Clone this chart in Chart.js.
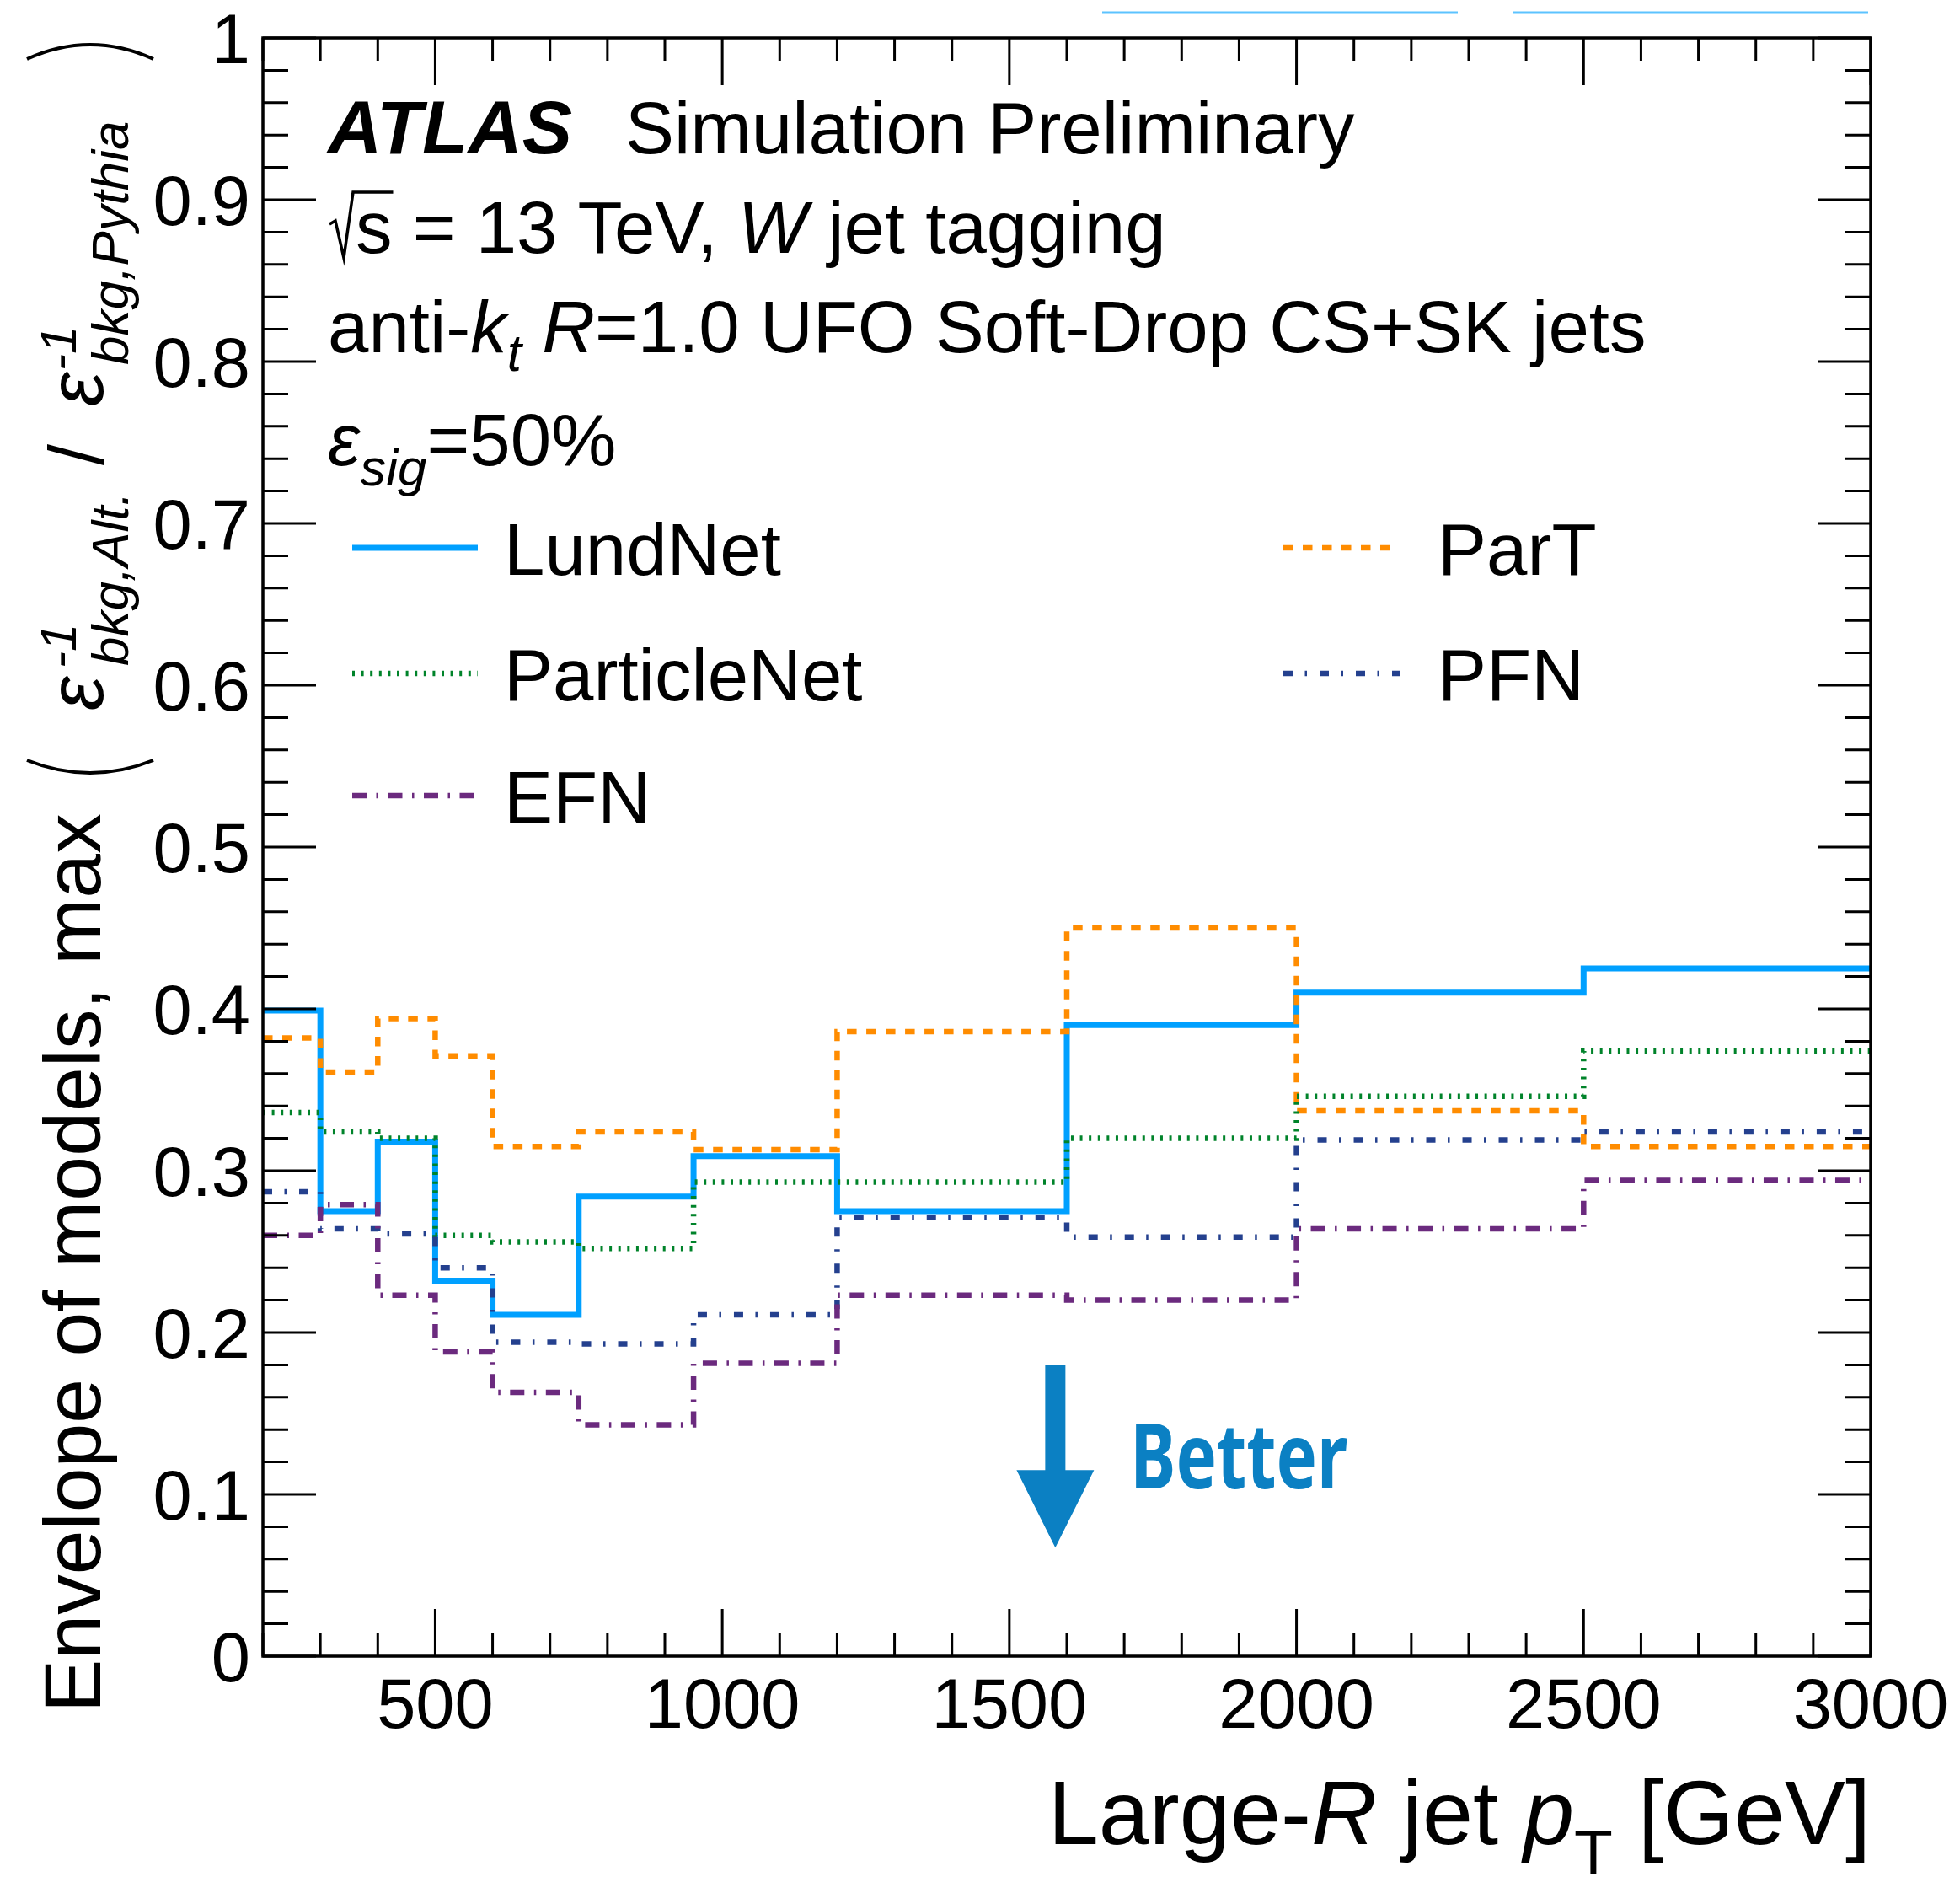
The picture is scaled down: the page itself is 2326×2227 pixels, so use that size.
<!DOCTYPE html>
<html>
<head>
<meta charset="utf-8">
<script src="https://cdn.jsdelivr.net/npm/chart.js@4.4.1/dist/chart.umd.min.js"></script>
<style>
  html, body { margin: 0; padding: 0; background: #fff; overflow: hidden; }
  canvas { display: block; }
</style>
</head>
<body>
<canvas id="chart" width="2326" height="2227"></canvas>
<script>
/* global Chart */

// bin edges in large-R jet pT [GeV]
const binEdges = [200, 300, 400, 500, 600, 750, 950, 1200, 1600, 2000, 2500, 3000];

// envelope of models per bin
const lundNet = [0.399, 0.275, 0.318, 0.232, 0.211, 0.284, 0.309, 0.275, 0.390, 0.410, 0.425];
const parT = [0.382, 0.361, 0.394, 0.371, 0.315, 0.324, 0.313, 0.386, 0.450, 0.337, 0.315];
const particleNet = [0.336, 0.324, 0.320, 0.260, 0.256, 0.252, 0.293, 0.293, 0.320, 0.346, 0.374];
const pfn = [0.287, 0.264, 0.261, 0.240, 0.194, 0.193, 0.211, 0.271, 0.259, 0.319, 0.324];
const efn = [0.260, 0.279, 0.223, 0.188, 0.163, 0.143, 0.181, 0.223, 0.220, 0.264, 0.294];

const xTicks = [500, 1000, 1500, 2000, 2500, 3000];
const xTickLabels = ["500", "1000", "1500", "2000", "2500", "3000"];
const yTicks = [0, 0.1, 0.2, 0.3, 0.4, 0.5, 0.6, 0.7, 0.8, 0.9, 1];
const yTickLabels = ["0", "0.1", "0.2", "0.3", "0.4", "0.5", "0.6", "0.7", "0.8", "0.9", "1"];
const xMinorStep = 100;
const yMinorStep = 0.02;

// "Better" arrow, in data units
const betterX = 1580;
const betterTop = 0.18;
const betterHead = 0.115;
const betterTip = 0.067;

const FONT = '"Liberation Sans", Arial, Helvetica, sans-serif';

function toSteps(vals) {
  const pts = vals.map((v, i) => ({ x: binEdges[i], y: v }));
  pts.push({ x: binEdges[binEdges.length - 1], y: vals[vals.length - 1] });
  return pts;
}

function histo(label, vals, color, dash, width) {
  return {
    label,
    data: toSteps(vals),
    borderColor: color,
    borderWidth: width,
    borderDash: dash,
    borderCapStyle: "butt",
    // chart.js "before" = hold previous y across the interval
    stepped: "before",
    pointRadius: 0,
    fill: false,
  };
}

// index 0 is drawn on top, so LundNet goes last
const datasets = [
  histo("EFN", efn, "#6b2a7e", [17, 11.5, 2.5, 11.5], 6.5),
  histo("PFN", pfn, "#24408e", [11, 14.5, 2.5, 15], 6.5),
  histo("ParticleNet", particleNet, "#00832a", [3, 7.6], 6.5),
  histo("ParT", parT, "#ff8c00", [11.5, 11.5], 6.5),
  histo("LundNet", lundNet, "#00a0ff", [], 7),
];

// legend placement: [name, line x1, line x2, text x, baseline]
const legendSlots = [
  ["LundNet", 418, 567, 598, 682],
  ["ParticleNet", 418, 567, 598, 831],
  ["EFN", 418, 567, 598, 976],
  ["ParT", 1523, 1661, 1706, 682],
  ["PFN", 1523, 1661, 1706, 831],
];

function rich(ctx, x, y, parts) {
  for (const p of parts) {
    ctx.font = p.font;
    ctx.fillText(p.t, x, y + (p.dy || 0));
    x += ctx.measureText(p.t).width;
  }
  return x;
}

function richWidth(ctx, parts) {
  let w = 0;
  for (const p of parts) {
    ctx.font = p.font;
    w += ctx.measureText(p.t).width;
  }
  return w;
}

function rotText(ctx, text, font, bx, sy) {
  ctx.save();
  ctx.translate(bx, sy);
  ctx.rotate(-Math.PI / 2);
  ctx.font = font;
  ctx.textAlign = "left";
  ctx.textBaseline = "alphabetic";
  ctx.fillText(text, 0, 0);
  ctx.restore();
}

const decor = {
  id: "atlasDecor",
  afterDraw(chart) {
    const ctx = chart.ctx;
    const area = chart.chartArea;
    const xs = chart.scales.x;
    const ys = chart.scales.y;
    ctx.save();
    ctx.fillStyle = "#000";
    ctx.strokeStyle = "#000";

    // frame
    ctx.lineWidth = 3.5;
    ctx.strokeRect(area.left, area.top, area.right - area.left, area.bottom - area.top);

    // inward ticks on all four sides
    ctx.lineWidth = 3;
    ctx.beginPath();
    const nY = Math.round((ys.max - ys.min) / yMinorStep);
    for (let k = 0; k <= nY; k++) {
      const v = ys.min + k * yMinorStep;
      const py = ys.getPixelForValue(v);
      const len = k % 5 === 0 ? 63 : 30;
      ctx.moveTo(area.left, py);
      ctx.lineTo(area.left + len, py);
      ctx.moveTo(area.right, py);
      ctx.lineTo(area.right - len, py);
    }
    const nX = Math.round((xs.max - xs.min) / xMinorStep);
    for (let k = 0; k <= nX; k++) {
      const v = xs.min + k * xMinorStep;
      const px = xs.getPixelForValue(v);
      const len = v % 500 === 0 ? 56 : 27;
      ctx.moveTo(px, area.bottom);
      ctx.lineTo(px, area.bottom - len);
      ctx.moveTo(px, area.top);
      ctx.lineTo(px, area.top + len);
    }
    ctx.stroke();

    // tick labels
    ctx.font = `83px ${FONT}`;
    ctx.textBaseline = "alphabetic";
    ctx.textAlign = "right";
    yTicks.forEach((v, i) => {
      ctx.fillText(yTickLabels[i], area.left - 15, ys.getPixelForValue(v) + 30);
    });
    ctx.textAlign = "center";
    xTicks.forEach((v, i) => {
      ctx.fillText(xTickLabels[i], xs.getPixelForValue(v), 2050);
    });

    // x axis title, right aligned to the frame
    ctx.textAlign = "left";
    const xt = [
      { t: "Large-", font: `108px ${FONT}` },
      { t: "R", font: `italic 108px ${FONT}` },
      { t: " jet ", font: `108px ${FONT}` },
      { t: "p", font: `italic 108px ${FONT}` },
      { t: "T", font: `75px ${FONT}`, dy: 35 },
      { t: " [GeV]", font: `108px ${FONT}` },
    ];
    rich(ctx, area.right - richWidth(ctx, xt), 2188, xt);

    // y axis title
    rotText(ctx, "Envelope of models, max", `95px ${FONT}`, 119, 2032);
    rotText(ctx, "\u03b5", `italic 92px ${FONT}`, 122, 843);
    rotText(ctx, "-1", `italic 60px ${FONT}`, 90, 793);
    rotText(ctx, "bkg,Alt.", `italic 62px ${FONT}`, 152, 790);
    rotText(ctx, "/", `90px ${FONT}`, 122, 552);
    rotText(ctx, "\u03b5", `italic 92px ${FONT}`, 122, 482);
    rotText(ctx, "-1", `italic 60px ${FONT}`, 90, 440);
    rotText(ctx, "bkg,Pythia", `italic 62px ${FONT}`, 152, 433);
    ctx.lineWidth = 4;
    ctx.beginPath();
    ctx.moveTo(32, 902);
    ctx.quadraticCurveTo(107, 932, 182, 902);
    ctx.moveTo(32, 70);
    ctx.quadraticCurveTo(107, 36, 182, 70);
    ctx.stroke();

    // labels in the plot
    const big = `87px ${FONT}`;
    const bigI = `italic 87px ${FONT}`;
    const subI = `italic 62px ${FONT}`;
    ctx.font = `italic bold 89px ${FONT}`;
    ctx.fillText("ATLAS", 389, 182);
    ctx.font = big;
    ctx.fillText("Simulation Preliminary", 742, 182);

    // sqrt(s)
    ctx.font = big;
    const sW = ctx.measureText("s").width;
    const r0 = 391;
    const rb = 300;
    ctx.lineWidth = 3.5;
    ctx.beginPath();
    ctx.moveTo(r0, rb - 34);
    ctx.lineTo(r0 + 7, rb - 38);
    ctx.lineTo(r0 + 17, rb + 6);
    ctx.lineTo(r0 + 28, rb - 72);
    ctx.lineTo(r0 + 32 + sW, rb - 72);
    ctx.stroke();
    rich(ctx, r0 + 31, rb, [
      { t: "s = 13 TeV, ", font: big },
      { t: "W", font: bigI },
      { t: " jet tagging", font: big },
    ]);

    rich(ctx, 389, 418, [
      { t: "anti-", font: big },
      { t: "k", font: bigI },
      { t: "t", font: subI, dy: 22 },
      { t: " ", font: big },
      { t: "R", font: bigI },
      { t: "=1.0 UFO Soft-Drop CS+SK jets", font: big },
    ]);

    rich(ctx, 389, 552, [
      { t: "\u03b5", font: bigI },
      { t: "sig", font: subI, dy: 24 },
      { t: "=50%", font: big },
    ]);

    // legend
    for (const [name, x1, x2, tx, by] of legendSlots) {
      const ds = chart.data.datasets.find((d) => d.label === name);
      ctx.save();
      ctx.strokeStyle = ds.borderColor;
      ctx.lineWidth = ds.borderWidth;
      ctx.setLineDash(ds.borderDash);
      ctx.beginPath();
      ctx.moveTo(x1, by - 32);
      ctx.lineTo(x2, by - 32);
      ctx.stroke();
      ctx.restore();
      ctx.font = big;
      ctx.fillText(name, tx, by);
    }

    // "Better" arrow
    const ax = xs.getPixelForValue(betterX);
    const aTop = ys.getPixelForValue(betterTop);
    const aHead = ys.getPixelForValue(betterHead);
    const aTip = ys.getPixelForValue(betterTip);
    ctx.fillStyle = "#0b80c3";
    ctx.beginPath();
    ctx.moveTo(ax - 12, aTop);
    ctx.lineTo(ax + 12, aTop);
    ctx.lineTo(ax + 12, aHead);
    ctx.lineTo(ax + 46, aHead);
    ctx.lineTo(ax, aTip);
    ctx.lineTo(ax - 46, aHead);
    ctx.lineTo(ax - 12, aHead);
    ctx.closePath();
    ctx.fill();
    ctx.save();
    ctx.font = `bold 108px "Noto Sans", ${FONT}`;
    const bw = ctx.measureText("Better").width;
    ctx.translate(ax + 89, aHead + 22);
    ctx.scale(258 / bw, 1);
    ctx.fillText("Better", 0, 0);
    ctx.restore();

    // link underlines cut at the top edge
    ctx.strokeStyle = "#5cc3ff";
    ctx.lineWidth = 3;
    ctx.beginPath();
    ctx.moveTo(1308, 15);
    ctx.lineTo(1730, 15);
    ctx.moveTo(1795, 15);
    ctx.lineTo(2217, 15);
    ctx.stroke();

    ctx.restore();
  },
};

new Chart(document.getElementById("chart"), {
  type: "line",
  data: { datasets },
  options: {
    responsive: false,
    animation: false,
    devicePixelRatio: 1,
    layout: { padding: { left: 312, right: 106, top: 45, bottom: 262 } },
    scales: {
      x: { type: "linear", min: 200, max: 3000, display: false },
      y: { type: "linear", min: 0, max: 1, display: false },
    },
    plugins: { legend: { display: false }, tooltip: { enabled: false } },
  },
  plugins: [decor],
});
</script>
</body>
</html>
